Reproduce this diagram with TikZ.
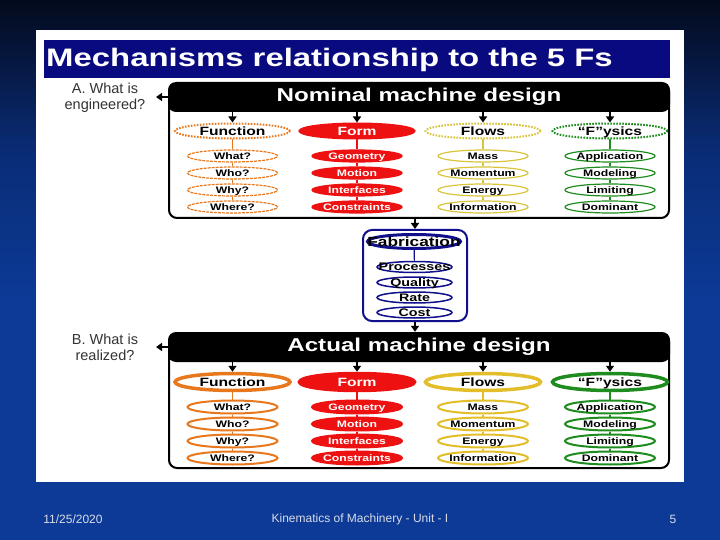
\documentclass[tikz,border=0pt]{standalone}
\usepackage{fontspec}
\setmainfont{Liberation Sans}
\newfontfamily\wb{Liberation Sans}[FakeStretch=1.3]
\usetikzlibrary{shapes.geometric,arrows.meta,positioning}
\definecolor{bgtop}{HTML}{030A1C}
\definecolor{bgmid}{HTML}{0A2C76}
\definecolor{bgbot}{HTML}{0C3A96}
\definecolor{titlenavy}{HTML}{0A0A80}
\definecolor{forange}{HTML}{E8781E}
\definecolor{fred}{HTML}{EE1111}
\definecolor{fyelN}{HTML}{D9C43A}
\definecolor{fyelA}{HTML}{E3BE2A}
\definecolor{fgreen}{HTML}{1E8C1E}
\definecolor{fblue}{HTML}{10108C}
\definecolor{foot}{HTML}{D8DCE8}
\newcommand{\fsz}[1]{\fontsize{#1}{#1}\selectfont}
\newcommand{\ct}[1]{\makebox[0pt]{\smash{\raisebox{-0.5\height}{#1}}}}
\newcommand{\fcol}[8]{%
  \node[#4] (#1m) at (#2,#3) {\ct{#7}};
  \foreach \t [count=\i] in {#8} {
    \node[#5] (#1\i) at (#2,#3+8+17*\i) {\ct{\t}};
  }
  \draw[#6, line width=1.2pt] (#1m) -- (#11);
  \draw[#6, line width=1.2pt] (#11) -- (#12);
  \draw[#6, line width=1.2pt] (#12) -- (#13);
  \draw[#6, line width=1.2pt] (#13) -- (#14);
}
\tikzset{
  ell/.style={ellipse, inner sep=0pt, fill=white},
  mainN/.style={ell, minimum width=115pt, minimum height=15pt, line width=2pt,
     dash pattern=on 1.6pt off 1.4pt, font=\wb\bfseries\fsz{12}},
  mainA/.style={ell, minimum width=115pt, minimum height=17pt, line width=3.5pt,
     font=\wb\bfseries\fsz{12}},
  subN/.style={ell, minimum width=90pt, minimum height=12pt, line width=1.2pt,
     font=\wb\bfseries\fsz{9.4}},
  subA/.style={ell, minimum width=90pt, minimum height=13pt, line width=2pt,
     font=\wb\bfseries\fsz{9.4}},
  formfill/.style={fill=fred, draw=fred, text=white, solid},
  hdr/.style={rectangle, rounded corners=8pt, fill=black, text=white,
     minimum width=502pt, minimum height=30pt, inner sep=0pt, font=\wb\bfseries\fsz{18.6}},
  bodybox/.style={rectangle, rounded corners=8pt, draw=black, line width=2pt, fill=white,
     minimum width=500pt, minimum height=134pt, inner sep=0pt},
  arr/.style={line width=1.8pt, -{Triangle[width=8pt,length=6pt]}},
  sidelab/.style={align=center, text=black!80, font=\fontsize{14.5}{16.5}\selectfont, inner sep=0pt},
  footlab/.style={text=foot, font=\fsz{12}, inner sep=0pt},
}
\begin{document}
\begin{tikzpicture}[x=1pt,y=-1pt]
\useasboundingbox (0,0) rectangle (720,540);
% background
\shade[top color=bgtop, bottom color=bgbot, middle color=bgmid] (0,0) rectangle (720,300);
\fill[bgbot] (0,299.5) rectangle (720,540);
% white panel
\fill[white] (36,30) rectangle (684,482);
% title bar
\node[rectangle, fill=titlenavy, minimum width=626pt, minimum height=38pt, inner sep=0pt] (tbar) at (357,59) {};
\node[anchor=west, text=white, font=\wb\bfseries\fsz{25.3}, inner sep=0pt] (title) at (46,59.5) {Mechanisms relationship to the 5 Fs};
% side labels
\node[sidelab] (labA) at (105,98) {A. What is\\engineered?};
\node[sidelab] (labB) at (105,347.5) {B. What is\\realized?};
\coordinate (tipA) at (156,97);
\coordinate (tipB) at (156,347);

% ===== Nominal =====
\node[bodybox] (nbody) at (419,151) {};
\node[hdr] (nhdr) at (419,97) {Nominal machine design};
\fcol{nf}{232.5}{131}{mainN, draw=forange}{subN, draw=forange, dash pattern=on 3pt off 1pt}{forange}{Function}{What?,Who?,Why?,Where?}
\fcol{no}{357}{131}{mainN, formfill, text=white}{subN, formfill}{fred}{Form}{Geometry,Motion,Interfaces,Constraints}
\fcol{nl}{483}{131}{mainN, draw=fyelN}{subN, draw=fyelN}{fyelN}{Flows}{Mass,Momentum,Energy,Information}
\fcol{ny}{610}{131}{mainN, draw=fgreen}{subN, draw=fgreen}{fgreen}{“F”ysics}{Application,Modeling,Limiting,Dominant}
\foreach \c in {nfm,nom,nlm,nym}{
  \draw[arr] (\c.north |- nhdr.south) -- (\c.north);
}
\draw[arr] (nhdr.west) -- (tipA);

% ===== Fabrication =====
\node[rectangle, rounded corners=9pt, draw=fblue, line width=2pt, fill=white,
  minimum width=104pt, minimum height=91pt, inner sep=0pt] (fab) at (415,275.5) {};
\node[ell, draw=fblue, line width=3pt, minimum width=93pt, minimum height=14pt,
  font=\wb\bfseries\fsz{13.3}] (fbm) at (414,241.5) {\ct{Fabrication}};
\foreach \t/\yy [count=\i] in {Processes/267,Quality/282.5,Rate/297.5,Cost/312.5}{
  \node[ell, draw=fblue, line width=1.5pt, minimum width=75pt, minimum height=11pt,
    font=\wb\bfseries\fsz{11}] (fb\i) at (414.5,\yy) {\ct{\t}};
}
\draw[fblue, line width=1.2pt] (fbm) -- (fb1);
\draw[arr] (fab.north |- nbody.south) -- (fab.north);

% ===== Actual =====
\node[bodybox] (abody) at (419,401) {};
\node[hdr] (ahdr) at (419,347) {Actual machine design};
\fcol{af}{232.5}{382}{mainA, draw=forange}{subA, draw=forange}{forange}{Function}{What?,Who?,Why?,Where?}
\fcol{ao}{357}{382}{mainA, formfill, text=white}{subA, formfill}{fred}{Form}{Geometry,Motion,Interfaces,Constraints}
\fcol{al}{483}{382}{mainA, draw=fyelA}{subA, draw=fyelA}{fyelA}{Flows}{Mass,Momentum,Energy,Information}
\fcol{ay}{610}{382}{mainA, draw=fgreen}{subA, draw=fgreen}{fgreen}{“F”ysics}{Application,Modeling,Limiting,Dominant}
\foreach \c in {afm,aom,alm,aym}{
  \draw[arr] (\c.north |- ahdr.south) -- (\c.north);
}
\draw[arr] (fab.south) -- (fab.south |- ahdr.north);
\draw[arr] (ahdr.west) -- (tipB);

% footer
\node[footlab] (date) at (73,519) {11/25/2020};
\node[footlab] (course) at (360,519) {Kinematics of Machinery - Unit - I};
\node[footlab] (page) at (673,519) {5};
\end{tikzpicture}
\end{document}
